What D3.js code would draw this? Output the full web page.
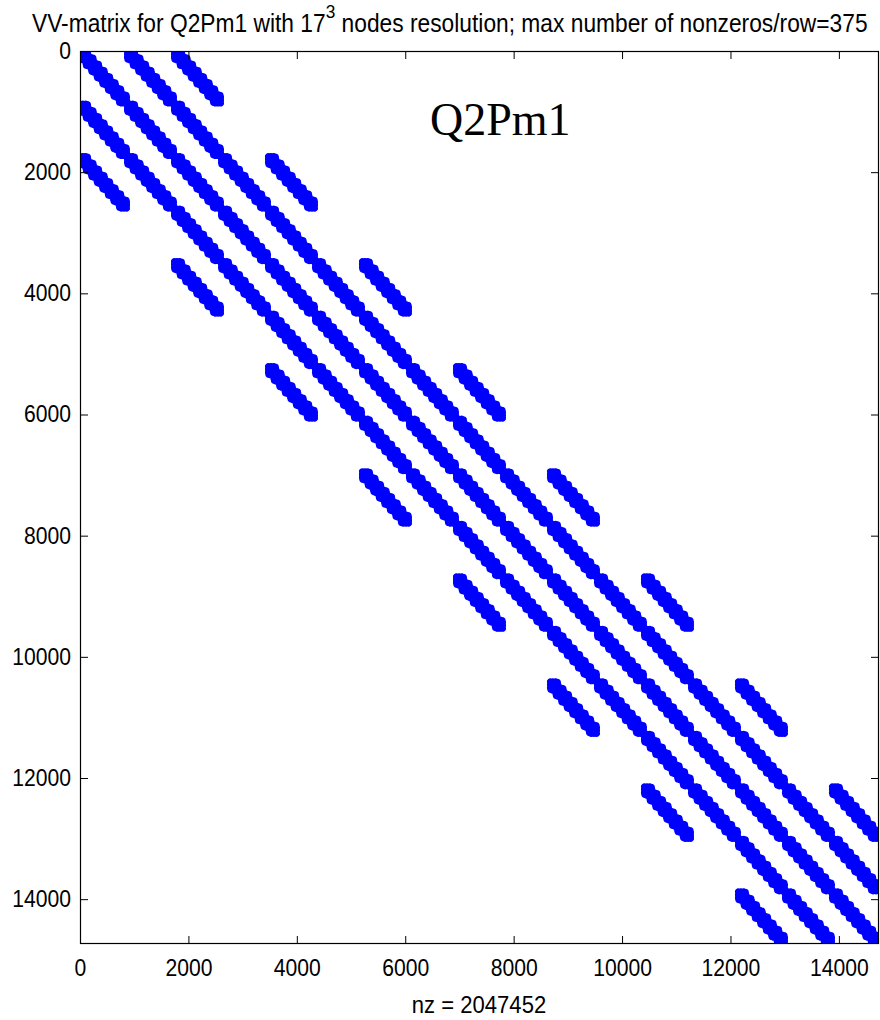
<!DOCTYPE html>
<html>
<head>
<meta charset="utf-8">
<script src="https://cdn.jsdelivr.net/npm/d3@7"></script>
<style>
  html, body { margin: 0; padding: 0; background: #fff; }
  svg { display: block; }
  text { font-family: "Liberation Sans", Arial, Helvetica, sans-serif; fill: #000; }
</style>
</head>
<body>
<svg id="chart" width="880" height="1020"></svg>
<script>
// Sparsity pattern of the velocity-velocity block for Q2 elements on a 17^3 node grid
const nodesPerEdge = 17;
const dofsPerNode = 3;
const matrixSize = 14739;
// node layers spanned by each Q2 element along one direction
const elementLayers = [[0, 1, 2], [2, 3, 4], [4, 5, 6], [6, 7, 8],
                       [8, 9, 10], [10, 11, 12], [12, 13, 14], [14, 15, 16]];
const tickValues = [0, 2000, 4000, 6000, 8000, 10000, 12000, 14000];
const titleHead = "VV-matrix for Q2Pm1 with 17";
const titleSup = "3";
const titleTail = " nodes resolution; max number of nonzeros/row=375";
const nzLabel = "nz = 2047452";
const annotation = "Q2Pm1";

const lineSize = nodesPerEdge * dofsPerNode;   // dofs in one row of nodes
const planeSize = nodesPerEdge * lineSize;     // dofs in one plane of nodes

// layers coupled to a given layer (they share an element)
function coupledLayers(a) {
  const s = new Set();
  elementLayers.forEach(el => { if (el.includes(a)) el.forEach(b => s.add(b)); });
  return Array.from(s).sort((p, q) => p - q);
}

// one block per coupled (plane, line) pair; each block is a short diagonal run of nonzeros
const blocks = [];
for (let p = 0; p < nodesPerEdge; p++) {
  for (const q of coupledLayers(p)) {
    for (let j = 0; j < nodesPerEdge; j++) {
      for (const m of coupledLayers(j)) {
        blocks.push({ row: p * planeSize + j * lineSize, col: q * planeSize + m * lineSize });
      }
    }
  }
}

const svg = d3.select("#chart");
const plotLeft = 80, plotRight = 879, plotTop = 51, plotBottom = 944;

const x = d3.scaleLinear().domain([0, matrixSize + 1]).range([plotLeft, plotRight]);
const y = d3.scaleLinear().domain([0, matrixSize + 1]).range([plotTop, plotBottom]);

svg.append("defs").append("clipPath").attr("id", "plotClip")
  .append("rect").attr("x", plotLeft).attr("y", plotTop)
  .attr("width", plotRight - plotLeft).attr("height", plotBottom - plotTop);

const marks = svg.append("g").attr("clip-path", "url(#plotClip)");

// diagonal run of nonzeros inside each coupled block
marks.append("g").selectAll("line").data(blocks).join("line")
  .attr("x1", d => x(d.col + 2))
  .attr("y1", d => y(d.row + 2))
  .attr("x2", d => x(d.col + lineSize - 2))
  .attr("y2", d => y(d.row + lineSize - 2))
  .attr("stroke", "#0000ff")
  .attr("stroke-width", 6)
  .attr("stroke-linecap", "round");

// spy marker at the centre of each block
marks.append("g").selectAll("circle").data(blocks).join("circle")
  .attr("cx", d => x(d.col + lineSize / 2))
  .attr("cy", d => y(d.row + lineSize / 2))
  .attr("r", 4.1)
  .attr("fill", "#0000ff");

const tickFont = 23, squeeze = 0.92;

// bottom axis with labels
const gx = svg.append("g").attr("transform", `translate(0,${plotBottom})`)
  .call(d3.axisBottom(x).tickValues(tickValues).tickFormat(d3.format("d"))
        .tickSizeInner(-8).tickSizeOuter(0).tickPadding(16));
// left axis with labels
const gy = svg.append("g").attr("transform", `translate(${plotLeft},0)`)
  .call(d3.axisLeft(y).tickValues(tickValues).tickFormat(d3.format("d"))
        .tickSizeInner(-8).tickSizeOuter(0).tickPadding(9));
// top and right ticks
const gt = svg.append("g").attr("transform", `translate(0,${plotTop})`)
  .call(d3.axisTop(x).tickValues(tickValues).tickFormat("")
        .tickSizeInner(-8).tickSizeOuter(0));
const gr = svg.append("g").attr("transform", `translate(${plotRight},0)`)
  .call(d3.axisRight(y).tickValues(tickValues).tickFormat("")
        .tickSizeInner(-8).tickSizeOuter(0));

[gx, gy, gt, gr].forEach(g => {
  g.select(".domain").remove();
  g.selectAll(".tick line").attr("stroke", "#000").attr("stroke-width", 1);
});
gx.selectAll(".tick text")
  .attr("font-size", tickFont).attr("font-family", null)
  .attr("transform", `scale(${squeeze},1)`);
gy.selectAll(".tick text")
  .attr("font-size", tickFont).attr("font-family", null)
  .attr("x", -9 / squeeze)
  .attr("transform", `scale(${squeeze},1)`);

// frame
svg.append("rect")
  .attr("x", plotLeft + 0.5).attr("y", plotTop + 0.5)
  .attr("width", plotRight - plotLeft - 1).attr("height", plotBottom - plotTop - 1)
  .attr("fill", "none").attr("stroke", "#000").attr("stroke-width", 1.2);

// title
const title = svg.append("text").attr("font-size", 25);
title.append("tspan").text(titleHead);
title.append("tspan").attr("font-size", 19).attr("dy", -14).text(titleSup);
title.append("tspan").attr("dy", 14).text(titleTail);
const tw = title.node().getComputedTextLength();
title.attr("transform", `translate(32,32) scale(${836 / tw},1)`);

// x label
svg.append("text")
  .attr("font-size", 24)
  .attr("text-anchor", "middle")
  .attr("transform", `translate(479,1013) scale(${squeeze},1)`)
  .text(nzLabel);

// annotation in the plot
svg.append("text")
  .attr("x", 430).attr("y", 135)
  .attr("font-size", 46)
  .style("font-family", "'Liberation Serif', 'Times New Roman', serif")
  .text(annotation);
</script>
</body>
</html>
